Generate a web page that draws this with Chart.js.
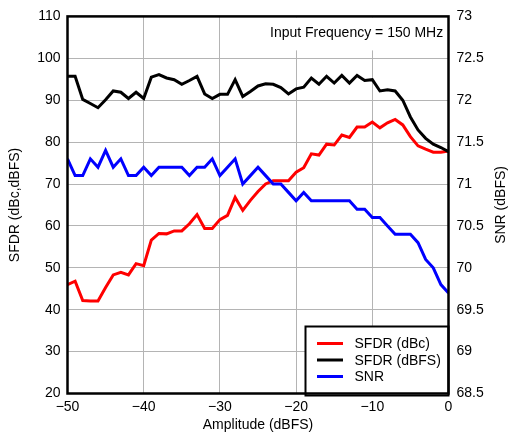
<!DOCTYPE html>
<html>
<head>
<meta charset="utf-8">
<script src="https://cdn.jsdelivr.net/npm/chart.js@4"></script>
<style>
html,body{margin:0;padding:0;background:#fff;}
#wrap{width:508px;height:434px;}
</style>
</head>
<body>
<div id="wrap"><canvas id="c" width="508" height="434"></canvas></div>
<script>
const amplitude = [-50,-49,-48,-47,-46,-45,-44,-43,-42,-41,-40,-39,-38,-37,-36,-35,-34,-33,-32,-31,-30,-29,-28,-27,-26,-25,-24,-23,-22,-21,-20,-19,-18,-17,-16,-15,-14,-13,-12,-11,-10,-9,-8,-7,-6,-5,-4,-3,-2,-1,0];
const sfdrDbc = [46.0,46.8,42.2,42.1,42.1,45.3,48.3,48.9,48.3,51.0, 50.5,56.6,58.2,58.1,58.8,58.8,60.5,62.7,59.4,59.4, 61.5,62.5,66.8,63.7,66.1, 68.2, 70.0,70.8,70.8,70.8, 72.8,73.9,77.2,76.9,79.5,79.3,81.7,81.1,83.6,83.6, 84.8,83.4,84.6,85.4,84.1,81.3,79.1,78.3,77.6,77.6, 77.9];
const sfdrDbfs = [95.7,95.7,90.2,89.2,88.2,90.1,92.2,91.9,90.4,91.9, 90.4,95.5,96.1,95.3,94.9,93.8,94.7,95.7,91.5,90.4, 91.4,91.4,94.9,90.9,92.1,93.4,93.9,93.8,93.0,91.5, 92.7,93.1,95.3,93.8,95.7,94.1,95.9,94.1,95.9,94.7, 94.9,92.2,92.5,92.2,90.0,86.0,82.9,80.9,79.5,78.7, 77.7];
const snr = [71.3,71.1,71.1,71.3,71.2,71.4,71.2,71.3,71.1,71.1, 71.2,71.1,71.2,71.2,71.2,71.2,71.1,71.2,71.2,71.3, 71.1,71.2,71.3,71.0,71.1,71.2,71.1,71.0,71.0,70.9, 70.8,70.9,70.8,70.8,70.8,70.8,70.8,70.8,70.7,70.7, 70.6,70.6,70.5,70.4,70.4,70.4,70.3,70.1,70.0,69.8, 69.7];
const seriesLabels = ['SFDR (dBc)','SFDR (dBFS)','SNR'];
const xTicks = [-50,-40,-30,-20,-10,0];
const annotationText = 'Input Frequency = 150 MHz';
const xTitle = 'Amplitude (dBFS)';
const yTitle = 'SFDR (dBc,dBFS)';
const y2Title = 'SNR (dBFS)';

const FONT = 'Liberation Sans, Arial, Helvetica, sans-serif';
const colors = ['#ff0000','#000000','#0000ff'];

function pts(ys){ return amplitude.map((x,i)=>({x:x,y:ys[i]})); }

const overlay = {
  id:'overlay',
  afterDatasetsDraw(chart){
    const ctx = chart.ctx, a = chart.chartArea;
    ctx.save();
    // annotation
    ctx.fillStyle = '#fff';
    ctx.fillRect(262, a.top + 1, a.right - 263, 33);
    ctx.fillStyle = '#000';
    ctx.font = '14px ' + FONT;
    ctx.textBaseline = 'alphabetic';
    ctx.textAlign = 'left';
    ctx.fillText(annotationText, 270, 37);
    // legend
    const lx = 305.5, ly = 326.5;
    ctx.fillStyle = '#fff';
    ctx.fillRect(lx, ly, a.right - lx, a.bottom - ly);
    ctx.strokeStyle = '#000';
    ctx.lineWidth = 2;
    ctx.strokeRect(lx, ly, a.right - lx, a.bottom - ly + 2);
    const rows = [343.5, 360, 376.5];
    chart.data.datasets.forEach((ds,i)=>{
      ctx.strokeStyle = ds.borderColor;
      ctx.lineWidth = 3;
      ctx.beginPath();
      ctx.moveTo(317, rows[i]);
      ctx.lineTo(343, rows[i]);
      ctx.stroke();
      ctx.fillStyle = '#000';
      ctx.textBaseline = 'middle';
      ctx.fillText(ds.label, 354.5, rows[i] + 1);
    });
    // frame
    ctx.strokeStyle = '#000';
    ctx.lineWidth = 2.5;
    ctx.strokeRect(a.left, a.top, a.right - a.left, a.bottom - a.top);
    // right axis title, reading upward
    ctx.translate(501, (a.top + a.bottom) / 2);
    ctx.rotate(-Math.PI / 2);
    ctx.fillStyle = '#000';
    ctx.textAlign = 'center';
    ctx.textBaseline = 'middle';
    ctx.fillText(y2Title, 0, 0);
    ctx.restore();
  }
};

new Chart(document.getElementById('c'), {
  type:'line',
  data:{
    datasets:[
      {label:seriesLabels[0], data:pts(sfdrDbc), borderColor:colors[0], yAxisID:'y', order:2},
      {label:seriesLabels[1], data:pts(sfdrDbfs), borderColor:colors[1], yAxisID:'y', order:1},
      {label:seriesLabels[2], data:pts(snr), borderColor:colors[2], yAxisID:'y2', order:0}
    ]
  },
  options:{
    responsive:false,
    animation:false,
    devicePixelRatio:1,
    layout:{padding:{top:14, right:0, bottom:0, left:0}},
    elements:{
      line:{borderWidth:3, tension:0, borderJoinStyle:'miter'},
      point:{radius:0}
    },
    plugins:{legend:{display:false}, tooltip:{enabled:false}},
    scales:{
      x:{
        type:'linear', min:-50, max:0,
        afterBuildTicks(s){ s.ticks = xTicks.map(v=>({value:v})); },
        afterFit(s){ s.height = 40.5; },
        grid:{color:'#b4b4b4', lineWidth:1, drawTicks:false},
        border:{display:false},
        ticks:{padding:5, color:'#000', font:{family:FONT, size:14},
          callback:v=> v<0 ? '\u2212' + Math.abs(v) : String(v)},
        title:{display:true, text:xTitle, color:'#000', font:{family:FONT, size:14}, padding:{top:2,bottom:0}}
      },
      y:{
        position:'left', min:20, max:110,
        ticks:{stepSize:10, padding:7, color:'#000', font:{family:FONT, size:14}},
        afterFit(s){ s.width = 67.5; },
        grid:{color:'#b4b4b4', lineWidth:1, drawTicks:false},
        border:{display:false},
        title:{display:true, text:yTitle, color:'#000', font:{family:FONT, size:14}, padding:{top:7,bottom:0}}
      },
      y2:{
        position:'right', min:68.5, max:73,
        ticks:{stepSize:0.5, padding:8, color:'#000', font:{family:FONT, size:14},
          callback:v=> String(Math.round(v*10)/10)},
        afterFit(s){ s.width = 59.5; },
        grid:{display:false, drawTicks:false},
        border:{display:false},
        title:{display:false}
      }
    }
  },
  plugins:[overlay]
});
</script>
</body>
</html>
